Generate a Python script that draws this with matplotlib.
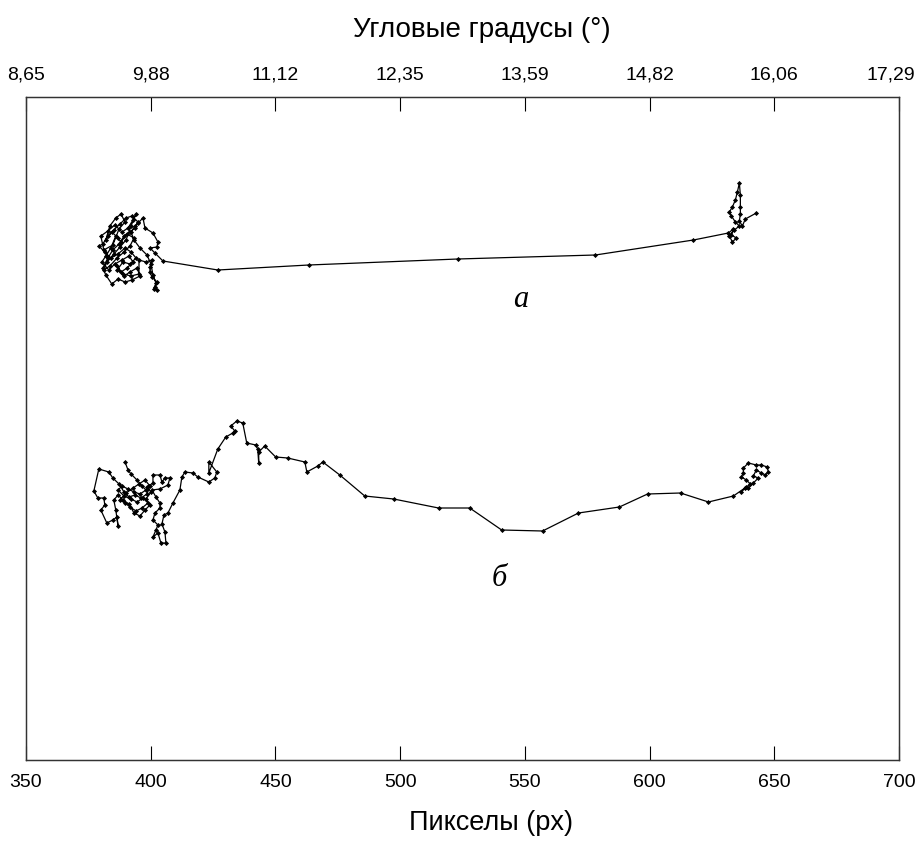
import matplotlib
matplotlib.use("Agg")
import matplotlib.pyplot as plt
from matplotlib.transforms import ScaledTranslation

plt.rcParams['font.family'] = ['Liberation Sans', 'DejaVu Sans']

# Bottom axis (pixels) and top axis (angular degrees) tick labels
px_ticks = [350, 400, 450, 500, 550, 600, 650, 700]
deg_labels = ["8,65", "9,88", "11,12", "12,35", "13,59", "14,82", "16,06", "17,29"]

# Trajectory "а": horizontal position (px) and vertical position (screen rows)
a_x = [386.9, 384.4, 382.0, 383.6, 386.0, 388.1, 389.7, 387.3, 384.8, 381.2,
       380.0, 382.8, 385.6, 388.5, 390.9, 392.9, 394.1, 392.1, 390.1, 387.7,
       385.2, 382.4, 381.2, 383.6, 386.5, 389.3, 391.7, 393.3, 390.5, 388.1,
       386.0, 384.0, 382.0, 380.4, 383.2, 385.6, 388.5, 391.3, 392.9, 390.5,
       388.1, 386.5, 389.3, 391.7, 394.5, 395.7, 392.5, 389.7, 386.9, 384.4,
       382.0, 380.8, 382.8, 384.8, 387.3, 389.3, 391.7, 393.7, 394.9, 392.5,
       390.1, 387.7, 385.2, 382.8, 380.8, 379.2, 381.6, 384.0, 386.9, 389.7,
       392.1, 394.1, 391.7, 388.9, 386.5, 388.9, 392.1, 395.3,
       395.3, 398.1, 400.5, 399.7, 399.7, 400.5, 402.5, 401.7, 402.5, 401.3,
       402.1, 400.9, 400.1, 398.5, 395.7, 393.3, 392.1, 393.7, 394.9, 396.9,
       397.7, 400.9, 402.9, 402.5, 399.7, 401.7, 404.9, 426.9, 463.4, 523.1,
       578.3, 617.6, 631.6,
       633.6, 632.8, 634.8, 633.2, 632.0, 634.0, 636.0, 634.4, 632.8, 632.0,
       633.2, 634.4, 635.2, 636.0, 636.4, 636.4, 636.4, 636.0, 637.2, 638.4,
       642.8]
a_y = [238, 232, 240, 226, 218, 214, 222, 229, 245, 250,
       236, 231, 225, 232, 228, 220, 214, 226, 240, 247,
       254, 262, 270, 266, 258, 252, 246, 238, 234, 242,
       236, 248, 256, 262, 270, 264, 260, 256, 262, 268,
       272, 266, 276, 272, 268, 276, 280, 282, 279, 284,
       275, 268, 258, 250, 244, 236, 232, 228, 222, 216,
       218, 224, 230, 236, 244, 246, 252, 258, 254, 248,
       252, 258, 264, 262, 270, 274, 276, 274,
       260, 262, 260, 267, 272, 277, 282, 287, 290, 289,
       283, 275, 264, 255, 248, 240, 232, 226, 223, 218,
       228, 233, 242, 247, 248, 253, 261, 270, 265, 259,
       255, 240, 233,
       229, 235, 238, 242, 236, 230, 226, 222, 216, 212,
       207, 200, 192, 183, 195, 207, 214, 221, 226, 219,
       213]

# Trajectory "б"
b_x = [389.7, 390.9, 392.1, 394.5, 396.5, 398.1, 395.7, 393.3, 390.9, 388.5,
       386.9, 389.3, 392.1, 394.5, 396.9, 398.9, 396.5, 394.1, 391.7, 389.7,
       387.7, 390.1, 392.9, 395.3, 397.7, 399.7, 398.5, 396.1, 393.7, 391.3,
       389.3, 387.3, 384.8, 383.2, 379.2, 377.2, 378.8, 381.2, 381.6, 380.0,
       382.4, 384.8, 386.5, 386.9, 386.0, 385.2, 386.9, 388.9, 391.3, 393.3,
       395.7, 397.7, 399.7, 398.1, 400.1, 398.5, 400.9, 400.9, 403.7, 404.5,
       405.7, 407.7, 406.9, 403.7, 400.5, 402.1, 403.7, 403.7, 401.7, 400.9,
       402.9, 402.1, 400.9, 402.9, 404.1, 406.1, 405.7, 404.5, 405.3, 406.9,
       408.9, 411.7, 412.5, 413.7, 416.9, 418.9, 423.3, 425.7, 426.5, 423.3,
       423.3, 426.9, 430.1, 432.9, 433.7, 432.1, 434.5, 436.9, 438.5, 442.1,
       442.9, 443.3, 443.3, 445.7, 450.1, 454.9, 461.8, 462.6, 467.0, 469.0,
       475.8, 485.8, 497.4, 515.4, 527.9, 540.7, 557.1, 571.5, 587.9, 599.2,
       612.4, 623.6, 633.6, 638.8, 640.4, 638.8, 636.8, 637.6, 637.6, 639.6,
       642.8, 644.8, 647.2, 647.6, 646.4, 644.8, 642.8, 641.6, 643.6, 641.6,
       639.6, 638.4, 636.8]
b_y = [462, 470, 474, 480, 486, 490, 494, 492, 489, 486,
       490, 496, 499, 502, 498, 503, 508, 511, 507, 503,
       500, 493, 488, 484, 480, 486, 494, 498, 495, 497,
       492, 484, 478, 472, 469, 491, 498, 498, 505, 510,
       523, 520, 517, 526, 510, 500, 495, 500, 504, 513,
       516, 510, 505, 499, 492, 487, 483, 475, 475, 482,
       478, 478, 485, 489, 490, 497, 503, 508, 513, 520,
       525, 530, 537, 533, 543, 543, 532, 524, 515, 513,
       503, 490, 477, 472, 473, 477, 482, 478, 472, 462,
       473, 449, 437, 433, 431, 426, 421, 423, 443, 445,
       449, 463, 452, 446, 457, 458, 462, 472, 466, 462,
       475, 496, 499, 508, 508, 530, 531, 513, 507, 494,
       493, 502, 496, 487, 484, 480, 477, 473, 468, 463,
       465, 465, 467, 472, 475, 473, 470, 476, 478, 483,
       488, 488, 492]

fig = plt.figure(figsize=(9.18, 8.46), dpi=100)
ax = fig.add_axes([26/918, 1-760/846, 873/918, 663/846])

for xs, ys in ((a_x, a_y), (b_x, b_y)):
    ax.plot(xs, ys, color='black', lw=0.9, marker='D', markersize=2.6,
            markerfacecolor='black', markeredgewidth=0)

ax.set_xlim(350, 700)
ax.set_ylim(760, 97)
ax.set_yticks([])
ax.set_xticks(px_ticks)
ax.tick_params(axis='x', direction='in', length=10, width=0.8, labelsize=14,
               pad=10, colors='black')
ax.set_xticklabels([str(t) for t in px_ticks])
ax.set_xlabel("Пикселы (px)", fontsize=19.5)
ax.xaxis.set_label_coords(0.533, -0.075)

ax2 = ax.twiny()
ax2.set_xlim(ax.get_xlim())
ax2.set_xticks(px_ticks)
ax2.set_xticklabels(deg_labels)
ax2.tick_params(axis='x', direction='in', length=10, width=0.8, labelsize=14, pad=10)
ax2.set_xlabel("Угловые градусы (°)", fontsize=20)
ax2.xaxis.set_label_coords(0.522, 1.09)

# keep the last top label inside the figure
last = ax2.get_xticklabels()[-1]
last.set_transform(last.get_transform() + ScaledTranslation(-8/100, 0, fig.dpi_scale_trans))

for a in (ax, ax2):
    for s in a.spines.values():
        s.set_color('#333333')
        s.set_linewidth(0.9)

ax.text(548.3, 300, "а", fontsize=22, fontstyle='italic',
        family=['Liberation Serif', 'DejaVu Serif'], ha='center', va='center')
ax.text(539.9, 578, "б", fontsize=22, fontstyle='italic',
        family=['Liberation Serif', 'DejaVu Serif'], ha='center', va='center')

fig.savefig("out.png", dpi=100)
